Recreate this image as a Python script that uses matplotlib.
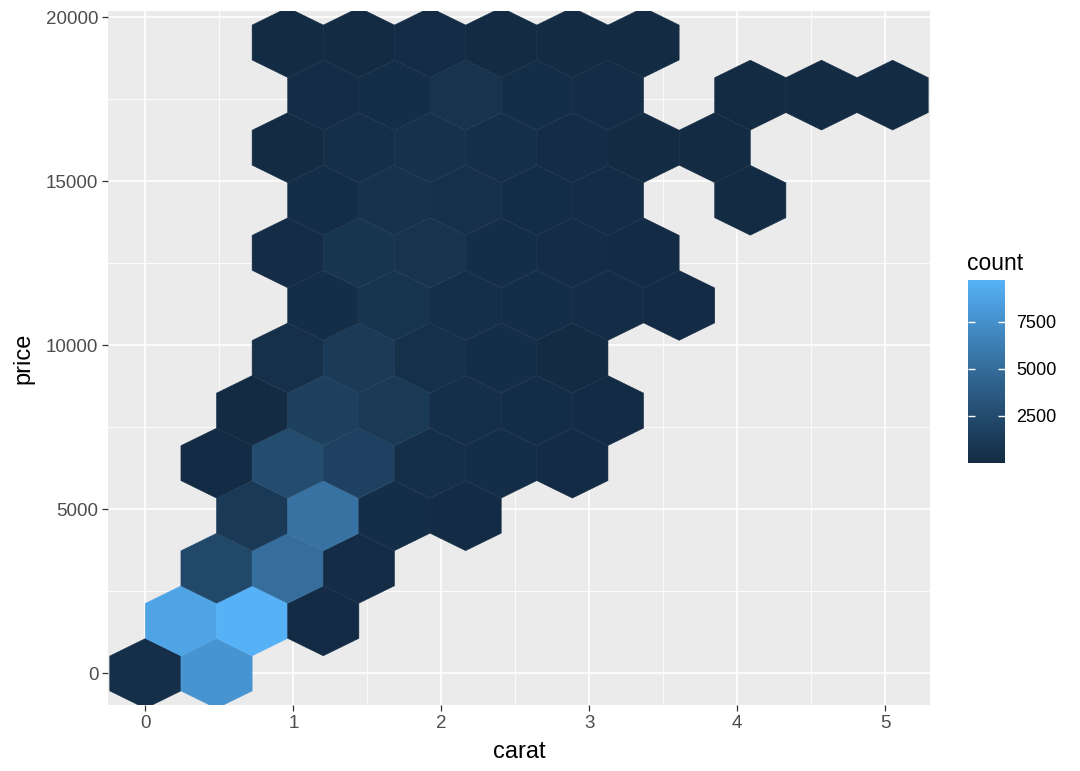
import numpy as np
import matplotlib.pyplot as plt
from matplotlib.collections import PolyCollection
from matplotlib.colors import ListedColormap, Normalize, to_rgb

plt.rcParams['font.family'] = ['Liberation Sans', 'DejaVu Sans']

# hex bin centres (carat, price) and counts
hex_carat = [
    0.0, 0.481,
    0.2405, 0.7215, 1.2025,
    0.481, 0.962, 1.443,
    0.7215, 1.2025, 1.6835, 2.1645,
    0.481, 0.962, 1.443, 1.924, 2.405, 2.886,
    0.7215, 1.2025, 1.6835, 2.1645, 2.6455, 3.1265,
    0.962, 1.443, 1.924, 2.405, 2.886,
    1.2025, 1.6835, 2.1645, 2.6455, 3.1265, 3.6075,
    0.962, 1.443, 1.924, 2.405, 2.886, 3.367,
    1.2025, 1.6835, 2.1645, 2.6455, 3.1265, 4.0885,
    0.962, 1.443, 1.924, 2.405, 2.886, 3.367, 3.848,
    1.2025, 1.6835, 2.1645, 2.6455, 3.1265, 4.0885, 4.5695, 5.0505,
    0.962, 1.443, 1.924, 2.405, 2.886, 3.367,
]
hex_price = (
    [0] * 2 + [1602] * 3 + [3204] * 3 + [4806] * 4 + [6408] * 6
    + [8010] * 6 + [9612] * 5 + [11214] * 6 + [12816] * 6 + [14418] * 6
    + [16020] * 7 + [17622] * 8 + [19224] * 6
)
hex_count = [
    350, 7800,
    8800, 9700, 60,
    2300, 5100, 150,
    1150, 5400, 250, 60,
    40, 2600, 1800, 350, 250, 60,
    80, 1700, 1100, 350, 200, 60,
    450, 1250, 400, 300, 90,
    300, 750, 350, 250, 150, 40,
    150, 800, 650, 250, 150, 60,
    200, 600, 450, 200, 120, 3,
    100, 350, 550, 350, 150, 80, 5,
    150, 250, 650, 250, 150, 3, 1, 1,
    30, 100, 150, 100, 80, 20,
]

x_ticks = [0, 1, 2, 3, 4, 5]
y_ticks = [0, 5000, 10000, 15000, 20000]
legend_ticks = [2500, 5000, 7500]


# ggplot style gradient: interpolate low -> high in Lab space
def srgb_to_lab(rgb):
    c = np.asarray(rgb, float)
    lin = np.where(c <= 0.04045, c / 12.92, ((c + 0.055) / 1.055) ** 2.4)
    m = np.array([[0.4124, 0.3576, 0.1805], [0.2126, 0.7152, 0.0722], [0.0193, 0.1192, 0.9505]])
    xyz = m @ lin / np.array([0.95047, 1.0, 1.08883])
    f = np.where(xyz > 0.008856, np.cbrt(xyz), 7.787 * xyz + 16 / 116)
    return np.array([116 * f[1] - 16, 500 * (f[0] - f[1]), 200 * (f[1] - f[2])])


def lab_to_srgb(lab):
    L, a, b = lab
    fy = (L + 16) / 116
    f = np.array([fy + a / 500, fy, fy - b / 200])
    xyz = np.where(f ** 3 > 0.008856, f ** 3, (f - 16 / 116) / 7.787) * np.array([0.95047, 1.0, 1.08883])
    m = np.array([[3.2406, -1.5372, -0.4986], [-0.9689, 1.8758, 0.0415], [0.0557, -0.2040, 1.0570]])
    lin = m @ xyz
    c = np.where(lin <= 0.0031308, 12.92 * lin, 1.055 * np.clip(lin, 0, None) ** (1 / 2.4) - 0.055)
    return np.clip(c, 0, 1)


lab_lo = srgb_to_lab(to_rgb('#132B43'))
lab_hi = srgb_to_lab(to_rgb('#56B1F7'))
cmap = ListedColormap([lab_to_srgb(lab_lo + t * (lab_hi - lab_lo)) for t in np.linspace(0, 1, 256)])
norm = Normalize(vmin=min(hex_count), vmax=max(hex_count))

# hexagon shape (half width in carat, quarter height in price)
dx = 0.2405
dy = 1602 / np.sqrt(3) / 2 * 1.15
shape = np.array([[dx, dy], [0, 2 * dy], [-dx, dy], [-dx, -dy], [0, -2 * dy], [dx, -dy]])
verts = [shape + [cx, cy] for cx, cy in zip(hex_carat, hex_price)]

fig = plt.figure(figsize=(10.8, 7.71), dpi=100)
ax = fig.add_axes([108 / 1080, 66 / 771, 822 / 1080, 694 / 771])
ax.set_facecolor('#EBEBEB')

coll = PolyCollection(verts, array=np.array(hex_count, dtype=float), cmap=cmap, norm=norm,
                      edgecolors='face', linewidths=0.4, zorder=3)
ax.add_collection(coll)

ax.set_xlim(-0.2525, 5.303)
ax.set_ylim(-961, 20185)

ax.set_xticks(x_ticks)
ax.set_yticks(y_ticks)
ax.set_xticks(np.arange(0.5, 5, 1), minor=True)
ax.set_yticks(np.arange(2500, 20000, 5000), minor=True)
ax.set_xticklabels([str(t) for t in x_ticks])
ax.set_yticklabels([str(t) for t in y_ticks])
ax.grid(which='major', color='white', linewidth=1.2, zorder=0)
ax.grid(which='minor', color='white', linewidth=0.6, zorder=0)
ax.set_axisbelow(True)
for s in ax.spines.values():
    s.set_visible(False)
ax.tick_params(which='major', length=4, width=0.9, color='#333333', labelcolor='#4D4D4D',
               labelsize=13.5, pad=3)
ax.tick_params(which='minor', length=0)

ax.set_xlabel('carat', fontsize=17, labelpad=7)
ax.set_ylabel('price', fontsize=17, labelpad=8)

# colour bar legend
cax = fig.add_axes([968 / 1080, (771 - 463) / 771, 37 / 1080, 183 / 771])
cb = fig.colorbar(coll, cax=cax, ticks=legend_ticks)
cb.outline.set_visible(False)
cax.tick_params(direction='in', length=5, width=1, color='white', left=True, right=True,
                labelsize=13, labelcolor='black', pad=8)
cax.set_yticklabels([str(t) for t in legend_ticks])
fig.text(967 / 1080, 1 - 263 / 771, 'count', fontsize=16.5, ha='left', va='center')

fig.savefig('out.png', dpi=100)
